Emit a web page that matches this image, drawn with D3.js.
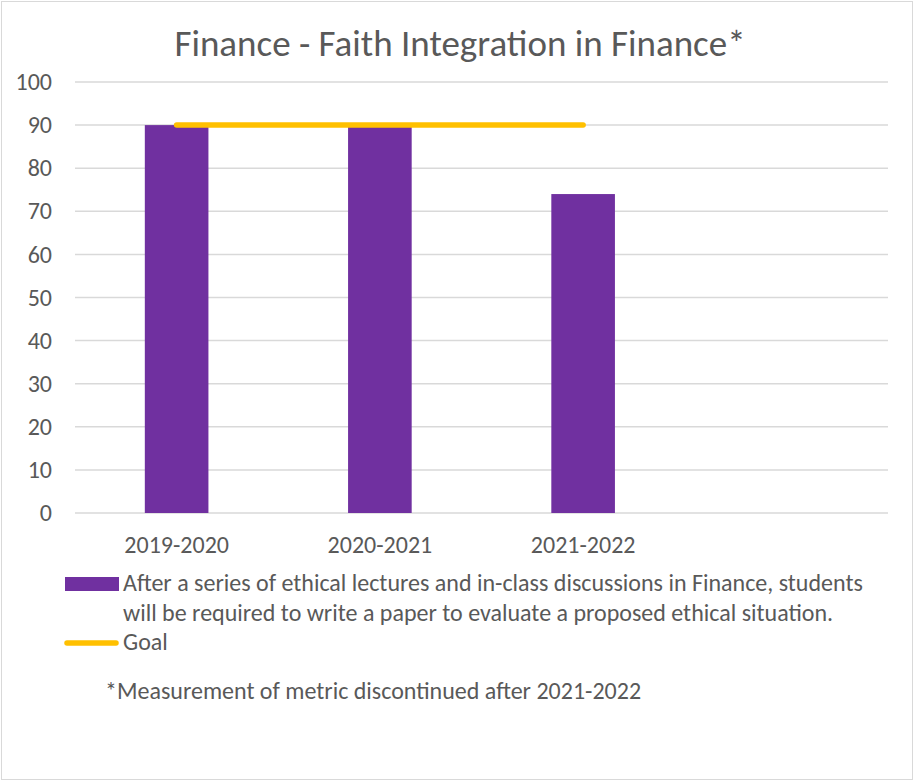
<!DOCTYPE html>
<html>
<head>
<meta charset="utf-8">
<script src="https://cdn.jsdelivr.net/npm/d3@7"></script>
<style>
  html, body { margin: 0; padding: 0; background: #fff; }
  svg { display: block; }
  text { font-family: Carlito, Calibri, Lato, sans-serif; fill: #595959; }
</style>
</head>
<body>
<svg id="chart" width="915" height="782"></svg>
<script>
// Academic years on the category axis (last slot left empty)
const categories = ["2019-2020", "2020-2021", "2021-2022", ""];
// Percentage of students meeting the outcome
const scores = [90, 89.7, 74];
// Target level, drawn across the measured years
const goal = [90, 90, 90];
const yTicks = [0, 10, 20, 30, 40, 50, 60, 70, 80, 90, 100];
const title = "Finance - Faith Integration in Finance*";
const seriesLabelLines = [
  "After a series of ethical lectures and in-class discussions in Finance, students",
  "will be required to write a paper to evaluate a proposed ethical situation."
];
const goalLabel = "Goal";
const footnote = "*Measurement of metric discontinued after 2021-2022";

const W = 915, H = 782;
const margin = { left: 75, right: 27, top: 82, bottom: 269 };
const fontSize = 24;
const svg = d3.select("#chart");

// chart frame
svg.append("rect")
  .attr("x", 1.5).attr("y", 1.5)
  .attr("width", W - 4).attr("height", H - 4)
  .attr("fill", "#fff").attr("stroke", "#d9d9d9").attr("stroke-width", 1);

const x = d3.scaleBand()
  .domain(categories.map((c, i) => i))
  .range([margin.left, W - margin.right])
  .paddingInner(0.687)
  .paddingOuter(0.3435);

const y = d3.scaleLinear()
  .domain([0, 100])
  .range([H - margin.bottom, margin.top]);

// title
svg.append("text")
  .attr("x", 460).attr("y", 56)
  .attr("text-anchor", "middle")
  .attr("font-size", 37)
  .text(title);

// horizontal gridlines
svg.append("g")
  .selectAll("line")
  .data(yTicks)
  .join("line")
  .attr("x1", margin.left).attr("x2", W - margin.right)
  .attr("y1", d => y(d)).attr("y2", d => y(d))
  .attr("stroke", "#d9d9d9").attr("stroke-width", 1.5);

// y axis labels
const yAxis = d3.axisLeft(y).tickValues(yTicks).tickSize(0).tickPadding(0);
const gy = svg.append("g")
  .attr("transform", `translate(${margin.left - 23},0)`)
  .call(yAxis);
gy.select(".domain").remove();
gy.selectAll("text")
  .attr("font-size", fontSize)
  .attr("font-family", null)
  .attr("fill", "#595959");

// bars
svg.append("g")
  .selectAll("rect")
  .data(scores)
  .join("rect")
  .attr("x", (d, i) => x(i))
  .attr("width", x.bandwidth())
  .attr("y", d => y(d))
  .attr("height", d => y(0) - y(d))
  .attr("fill", "#7030a0");

// goal line
const line = d3.line()
  .x((d, i) => x(i) + x.bandwidth() / 2)
  .y(d => y(d));
svg.append("path")
  .datum(goal)
  .attr("d", line)
  .attr("fill", "none")
  .attr("stroke", "#ffc000")
  .attr("stroke-width", 5.5)
  .attr("stroke-linecap", "round");

// x axis labels
const xAxis = d3.axisBottom(x).tickFormat(i => categories[i]).tickSize(0).tickPadding(0);
const gx = svg.append("g")
  .attr("transform", `translate(0,${y(0) + 23})`)
  .call(xAxis);
gx.select(".domain").remove();
gx.selectAll("text")
  .attr("font-size", fontSize)
  .attr("font-family", null)
  .attr("fill", "#595959");

// legend
const leg = svg.append("g");
leg.append("rect")
  .attr("x", 65).attr("y", 577)
  .attr("width", 54).attr("height", 14)
  .attr("fill", "#7030a0");
leg.append("text")
  .attr("x", 123).attr("y", 591)
  .attr("font-size", fontSize)
  .selectAll("tspan")
  .data(seriesLabelLines)
  .join("tspan")
  .attr("x", 123)
  .attr("dy", (d, i) => i === 0 ? 0 : 30)
  .text(d => d);
leg.append("line")
  .attr("x1", 67).attr("x2", 116)
  .attr("y1", 643).attr("y2", 643)
  .attr("stroke", "#ffc000").attr("stroke-width", 5.5)
  .attr("stroke-linecap", "round");
leg.append("text")
  .attr("x", 123).attr("y", 650)
  .attr("font-size", fontSize)
  .text(goalLabel);

// footnote
svg.append("text")
  .attr("x", 105).attr("y", 699)
  .attr("font-size", fontSize)
  .text(footnote);
</script>
</body>
</html>
